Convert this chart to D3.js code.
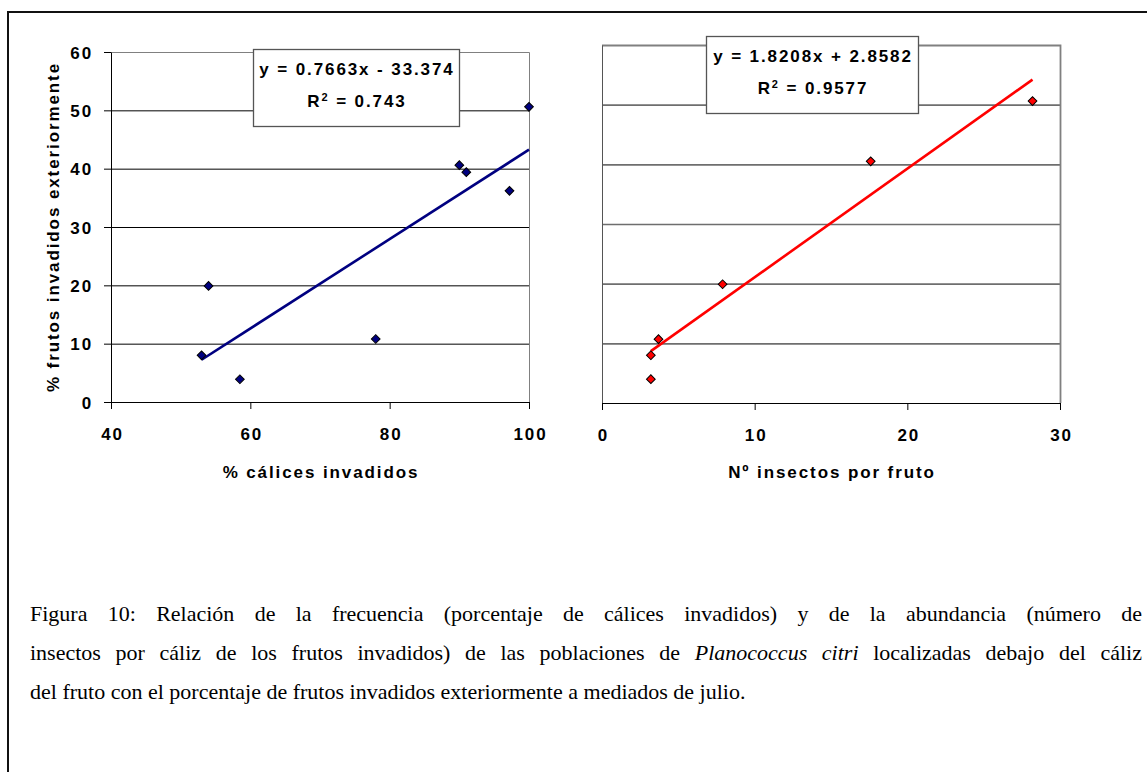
<!DOCTYPE html>
<html>
<head>
<meta charset="utf-8">
<script src="https://cdn.jsdelivr.net/npm/d3@7"></script>
<style>
  body { margin: 0; background: #fff; }
  svg { display: block; }
</style>
</head>
<body>
<svg id="chart" width="1147" height="772"></svg>
<script>
// ---- data ----
const calicesInvadidos = [53.0, 54.0, 58.5, 78.0, 90.0, 91.0, 97.2, 100.0];
const frutosVsCalices  = [8.0, 19.9, 3.9, 10.8, 40.6, 39.4, 36.2, 50.6];

const insectosPorFruto = [3.2, 3.2, 3.7, 7.9, 17.6, 28.2];
const frutosVsInsectos = [4.0, 8.0, 10.7, 19.9, 40.5, 50.6];

const calicesTicks  = [40, 60, 80, 100];
const insectosTicks = [0, 10, 20, 30];
const frutosTicks   = [0, 10, 20, 30, 40, 50, 60];

// linear fits printed on the chart
const calicesFit  = { slope: 0.7663, intercept: -33.374, slopeTxt: '0.7663', interceptTxt: '33.374', r2: '0.743' };
const insectosFit = { slope: 1.8208, intercept: 2.8582, slopeTxt: '1.8208', interceptTxt: '2.8582', r2: '0.9577' };

const yTitle        = '% frutos invadidos exteriormente';
const calicesTitle  = '% cálices invadidos';
const insectosTitle = 'Nº insectos por fruto';

// caption, one entry per printed line (_word_ = italic)
const captionLines = [
  'Figura 10: Relación de la frecuencia (porcentaje de cálices invadidos) y de la abundancia (número de',
  'insectos por cáliz de los frutos invadidos) de las poblaciones de _Planococcus_ _citri_ localizadas debajo del cáliz',
  'del fruto con el porcentaje de frutos invadidos exteriormente a mediados de julio.'
];

const svg = d3.select('#chart');
const FONT = 'Liberation Sans, Arial, sans-serif';
const SPACING = '1.9px';

// page frame (cut off on the right and bottom)
svg.append('rect')
  .attr('x', 8).attr('y', 12)
  .attr('width', 1200).attr('height', 800)
  .attr('fill', 'none')
  .attr('stroke', '#111')
  .attr('stroke-width', 2);

function styleText(sel, size) {
  return sel
    .attr('font-family', FONT)
    .attr('font-size', size)
    .attr('font-weight', 'bold')
    .attr('letter-spacing', SPACING)
    .attr('fill', '#000');
}

function drawPanel(cfg) {
  const x = d3.scaleLinear().domain(d3.extent(cfg.xTicks)).range(cfg.xRange);
  const y = d3.scaleLinear().domain(d3.extent(frutosTicks)).range(cfg.yRange);
  const [x0, x1] = cfg.xRange;
  const [y0, y1] = cfg.yRange;
  const g = svg.append('g');

  // horizontal gridlines
  g.append('g')
    .attr('transform', `translate(${x0},0)`)
    .call(d3.axisLeft(y).tickValues(frutosTicks.slice(1, -1)).tickSize(-(x1 - x0)).tickFormat(''))
    .call(a => a.select('.domain').remove())
    .selectAll('line')
    .attr('stroke', cfg.gridColor)
    .attr('stroke-width', cfg.gridWidth);

  // plot area frame (top + right)
  g.append('path')
    .attr('d', `M${x0},${y1 + 0.5}H${x1 + 0.5}V${y0}`)
    .attr('fill', 'none')
    .attr('stroke', '#808080')
    .attr('stroke-width', cfg.frameWidth);

  // y axis
  const yAxis = g.append('g')
    .attr('transform', `translate(${x0},0)`)
    .call(d3.axisLeft(y)
      .tickValues(frutosTicks)
      .tickSize(cfg.showYLabels ? 7 : 0)
      .tickSizeOuter(0)
      .tickPadding(11)
      .tickFormat(cfg.showYLabels ? d3.format('d') : () => ''));
  yAxis.selectAll('.domain, line').attr('stroke', cfg.yAxisColor);
  styleText(yAxis.selectAll('text'), 17).attr('dy', '0.36em');
  yAxis.attr('font-family', null).attr('font-size', null);

  // x axis
  const xAxis = g.append('g')
    .attr('transform', `translate(0,${y0})`)
    .call(d3.axisBottom(x).tickValues(cfg.xTicks).tickSize(7).tickSizeOuter(0));
  xAxis.selectAll('.domain, line').attr('stroke', '#000');
  styleText(xAxis.selectAll('text'), 17).attr('y', 32).attr('dy', '0.35em').attr('x', 1);
  xAxis.attr('font-family', null).attr('font-size', null);

  // x axis title
  styleText(g.append('text'), 17)
    .attr('x', (x0 + x1) / 2 + 1)
    .attr('y', 472)
    .attr('dy', '0.35em')
    .attr('text-anchor', 'middle')
    .text(cfg.xTitle);

  // trendline over the data's x range
  const fit = cfg.fit;
  const xr = d3.extent(cfg.xs);
  g.append('path')
    .datum(xr.map(v => [v, fit.slope * v + fit.intercept]))
    .attr('d', d3.line().x(d => x(d[0])).y(d => y(d[1])))
    .attr('fill', 'none')
    .attr('stroke', cfg.lineColor)
    .attr('stroke-width', 2.6);

  // diamond markers
  g.selectAll('path.pt')
    .data(d3.zip(cfg.xs, cfg.ys))
    .join('path')
    .attr('class', 'pt')
    .attr('transform', d => `translate(${x(d[0])},${y(d[1])}) rotate(45)`)
    .attr('d', d3.symbol(d3.symbolSquare, 38))
    .attr('fill', cfg.markerColor)
    .attr('stroke', '#000')
    .attr('stroke-width', 1);

  // equation box
  const b = cfg.box;
  g.append('rect')
    .attr('x', b.x + 0.5).attr('y', b.y + 0.5)
    .attr('width', b.w).attr('height', b.h)
    .attr('fill', '#fff')
    .attr('stroke', '#555')
    .attr('stroke-width', 1.3);

  const cx = b.x + b.w / 2;
  styleText(g.append('text'), 17)
    .attr('x', cx + 1)
    .attr('y', b.y + 26)
    .attr('text-anchor', 'middle')
    .text(`y = ${fit.slopeTxt}x ${fit.intercept < 0 ? '-' : '+'} ${fit.interceptTxt}`);

  const r2 = styleText(g.append('text'), 17)
    .attr('x', cx + 1)
    .attr('y', b.y + 58)
    .attr('text-anchor', 'middle');
  r2.append('tspan').text('R');
  r2.append('tspan').attr('font-size', 11).attr('dy', -6).text('2');
  r2.append('tspan').attr('dy', 6).text(` = ${fit.r2}`);
}

// left panel: % cálices invadidos
drawPanel({
  xs: calicesInvadidos, ys: frutosVsCalices, xTicks: calicesTicks,
  xRange: [111, 529], yRange: [402, 52],
  fit: calicesFit, xTitle: calicesTitle,
  lineColor: '#000080', markerColor: '#000080',
  gridColor: '#000', gridWidth: 1, frameWidth: 1,
  yAxisColor: '#000', showYLabels: true,
  box: { x: 253, y: 49, w: 206, h: 77 }
});

// right panel: Nº insectos por fruto
drawPanel({
  xs: insectosPorFruto, ys: frutosVsInsectos, xTicks: insectosTicks,
  xRange: [602, 1060], yRange: [403, 45],
  fit: insectosFit, xTitle: insectosTitle,
  lineColor: '#ff0000', markerColor: '#ff0000',
  gridColor: '#6e6e6e', gridWidth: 1.6, frameWidth: 1.8,
  yAxisColor: '#555', showYLabels: false,
  box: { x: 706, y: 36, w: 212, h: 77 }
});

// shared y title
styleText(svg.append('text'), 17)
  .attr('transform', 'translate(59,227) rotate(-90)')
  .attr('text-anchor', 'middle')
  .text(yTitle);

// caption, justified like the source document
const capLeft = 30, capRight = 1142, capSize = 22;
captionLines.forEach((line, i) => {
  const words = line.split(' ').map(w => ({
    t: w.replace(/_/g, ''),
    italic: w.startsWith('_')
  }));
  const text = svg.append('text')
    .attr('y', 621 + 39 * i)
    .attr('font-family', 'Liberation Serif, Times New Roman, serif')
    .attr('font-size', capSize)
    .attr('fill', '#000');
  const spans = words.map(w => text.append('tspan')
    .attr('font-style', w.italic ? 'italic' : null)
    .text(w.t));
  const widths = spans.map(s => s.node().getComputedTextLength());
  const justify = i < captionLines.length - 1;
  const gap = justify
    ? (capRight - capLeft - d3.sum(widths)) / (words.length - 1)
    : capSize * 0.25;
  let px = capLeft;
  spans.forEach((s, k) => {
    s.attr('x', px);
    px += widths[k] + gap;
  });
});
</script>
</body>
</html>
